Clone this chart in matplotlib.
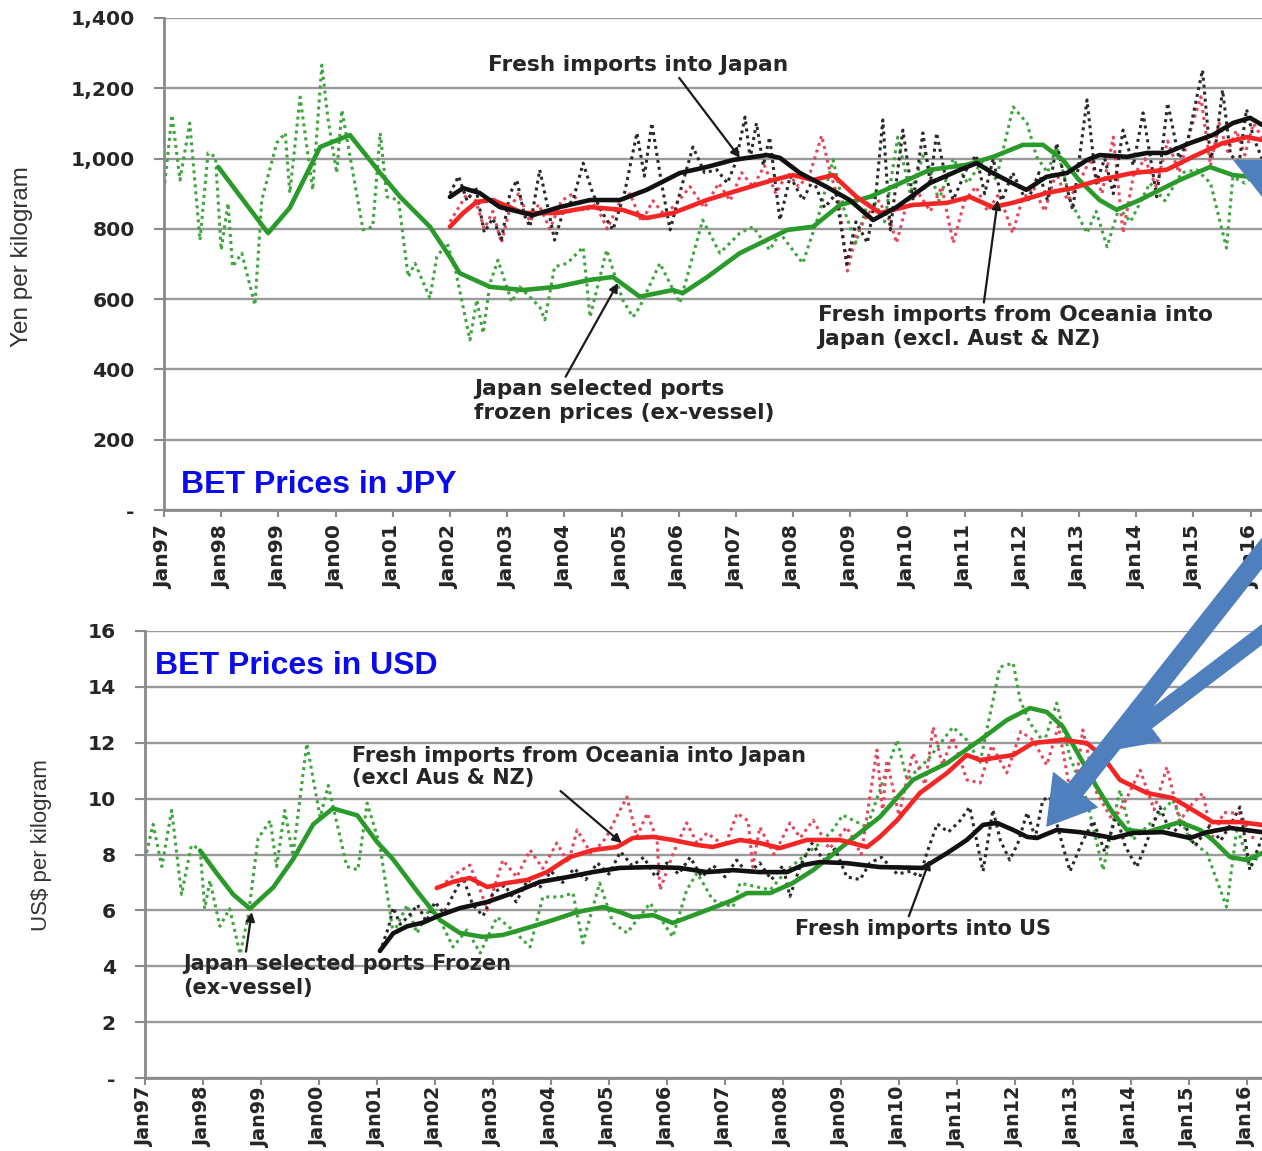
import matplotlib
matplotlib.use("Agg")
import matplotlib.pyplot as plt
from matplotlib.patches import Polygon, FancyArrowPatch

# ---------------- JPY panel (yen per kg) ----------------
# Japan selected ports frozen prices, monthly (dotted) and moving average (solid)
frz_jpy_t = [1997.0, 1997.14, 1997.28, 1997.45, 1997.63, 1997.77, 1997.9, 1998.0, 1998.12, 1998.2,
             1998.36, 1998.59, 1998.71, 1998.97, 1999.12, 1999.2, 1999.38, 1999.6, 1999.76, 1999.87,
             2000.02, 2000.11, 2000.48, 2000.65, 2000.78, 2000.9, 2001.1, 2001.27, 2001.39, 2001.65,
             2001.77, 2001.95, 2002.1, 2002.35, 2002.47, 2002.58, 2002.7, 2002.84, 2003.08, 2003.22,
             2003.57, 2003.66, 2003.83, 2004.05, 2004.33, 2004.45, 2004.74, 2005.02, 2005.2, 2005.32,
             2005.67, 2006.02, 2006.42, 2006.72, 2007.07, 2007.3, 2007.59, 2007.77, 2008.17, 2008.45,
             2008.7, 2008.9, 2009.1, 2009.35, 2009.6, 2009.83, 2010.05, 2010.3, 2010.55, 2010.8,
             2011.05, 2011.3, 2011.55, 2011.85, 2012.09, 2012.26, 2012.45, 2012.61, 2012.85, 2013.14,
             2013.3, 2013.49, 2013.7, 2013.9, 2014.24, 2014.5, 2014.8, 2015.06, 2015.3, 2015.58,
             2015.69, 2015.9, 2016.16]
frz_jpy_v = [911, 1124, 939, 1101, 768, 1016, 1005, 740, 873, 692,
             731, 583, 882, 1044, 1073, 902, 1175, 911, 1266, 1110,
             959, 1138, 797, 806, 1073, 891, 882, 663, 702, 603,
             720, 760, 680, 484, 598, 503, 645, 711, 592, 635,
             578, 541, 692, 702, 748, 549, 740, 598, 549, 578,
             702, 589, 825, 731, 788, 806, 740, 788, 702, 840,
             996, 850, 760, 900, 820, 1061, 900, 1020, 880, 1000,
             930, 990, 940, 1147, 1101, 1005, 960, 1033, 880, 788,
             850, 749, 860, 820, 930, 880, 960, 968, 930, 745,
             948, 930, 968]
frz_jpy_ma_t = [1997.95, 1998.3, 1998.82, 1999.2, 1999.73, 2000.25, 2000.78, 2001.13, 2001.65, 2002.0,
                2002.17, 2002.7, 2003.28, 2003.87, 2004.45, 2004.85, 2005.32, 2005.9, 2006.07, 2006.5,
                2007.07, 2007.65, 2007.9, 2008.35, 2008.82, 2009.34, 2009.81, 2010.39, 2011.03, 2011.5,
                2012.02, 2012.37, 2012.72, 2013.0, 2013.36, 2013.66, 2014.06, 2014.76, 2015.29, 2015.69,
                2016.2]
frz_jpy_ma_v = [976, 900, 788, 860, 1033, 1067, 959, 891, 806, 720,
                674, 635, 626, 635, 655, 663, 607, 626, 617, 663,
                731, 777, 797, 806, 868, 891, 925, 968, 982, 1005,
                1039, 1039, 996, 939, 882, 854, 882, 939, 976, 953,
                945]

# Fresh imports into Japan
jp_t = [2002.0, 2002.15, 2002.3, 2002.45, 2002.6, 2002.75, 2002.9, 2003.05, 2003.17, 2003.3,
        2003.4, 2003.57, 2003.7, 2003.83, 2004.0, 2004.15, 2004.33, 2004.5, 2004.65, 2004.85,
        2005.05, 2005.27, 2005.4, 2005.53, 2005.7, 2005.85, 2006.05, 2006.25, 2006.45, 2006.67,
        2006.85, 2007.0, 2007.16, 2007.25, 2007.36, 2007.48, 2007.59, 2007.77, 2007.95, 2008.17,
        2008.35, 2008.55, 2008.75, 2008.94, 2009.1, 2009.3, 2009.45, 2009.57, 2009.7, 2009.92,
        2010.1, 2010.27, 2010.4, 2010.51, 2010.65, 2010.8, 2011.03, 2011.2, 2011.35, 2011.5,
        2011.65, 2011.84, 2012.09, 2012.3, 2012.45, 2012.61, 2012.75, 2012.89, 2013.14, 2013.3,
        2013.45, 2013.6, 2013.77, 2013.95, 2014.12, 2014.36, 2014.55, 2014.75, 2014.9, 2015.16,
        2015.3, 2015.4, 2015.51, 2015.65, 2015.8, 2015.93, 2016.05, 2016.2]
jp_v = [900, 950, 880, 920, 790, 830, 770, 900, 939, 840,
        806, 968, 870, 768, 860, 880, 987, 900, 850, 797,
        900, 1073, 950, 1101, 930, 797, 920, 1033, 960, 968,
        930, 990, 1118, 1000, 1101, 980, 1061, 825, 950, 882,
        940, 860, 900, 700, 820, 760, 900, 1110, 797, 1081,
        880, 1073, 930, 1073, 960, 882, 968, 1010, 900, 1000,
        880, 960, 874, 960, 880, 1044, 940, 854, 1167, 930,
        1000, 900, 1081, 980, 1130, 891, 1158, 1000, 1050, 1252,
        1000, 1050, 1195, 1010, 990, 1140, 1060, 1000]
jp_ma_t = [2002.0, 2002.23, 2002.52, 2002.87, 2003.45, 2003.92, 2004.45, 2004.97, 2005.44, 2006.02,
           2006.49, 2006.95, 2007.54, 2007.77, 2008.12, 2008.59, 2008.99, 2009.4, 2009.81, 2010.39,
           2010.92, 2011.21, 2011.49, 2011.84, 2012.08, 2012.43, 2012.79, 2013.14, 2013.36, 2013.84,
           2014.19, 2014.53, 2014.94, 2015.34, 2015.69, 2015.99, 2016.2]
jp_ma_v = [891, 916, 902, 862, 839, 862, 882, 882, 911, 959,
           976, 996, 1010, 1002, 959, 919, 882, 825, 862, 930,
           968, 987, 959, 930, 911, 948, 959, 996, 1010, 1005,
           1016, 1016, 1044, 1067, 1101, 1116, 1096]

# Fresh imports from Oceania into Japan (excl. Aust & NZ)
oc_jpy_t = [2002.0, 2002.15, 2002.3, 2002.45, 2002.6, 2002.75, 2002.9, 2003.05, 2003.2, 2003.4,
            2003.55, 2003.75, 2003.95, 2004.15, 2004.35, 2004.55, 2004.75, 2004.95, 2005.15, 2005.35,
            2005.55, 2005.75, 2005.95, 2006.2, 2006.45, 2006.7, 2006.9, 2007.1, 2007.3, 2007.5,
            2007.7, 2007.9, 2008.1, 2008.3, 2008.5, 2008.65, 2008.8, 2008.95, 2009.1, 2009.3,
            2009.5, 2009.7, 2009.81, 2010.0, 2010.2, 2010.4, 2010.6, 2010.8, 2011.0, 2011.2,
            2011.4, 2011.6, 2011.84, 2012.0, 2012.2, 2012.4, 2012.6, 2012.8, 2013.0, 2013.2,
            2013.4, 2013.6, 2013.77, 2013.95, 2014.15, 2014.35, 2014.55, 2014.75, 2014.95, 2015.13,
            2015.3, 2015.45, 2015.6, 2015.75, 2015.9, 2016.05, 2016.2]
oc_jpy_v = [820, 860, 900, 880, 800, 850, 760, 860, 900, 820,
            870, 800, 880, 900, 850, 870, 800, 870, 900, 820,
            880, 840, 870, 920, 860, 930, 880, 960, 920, 980,
            900, 960, 920, 960, 1065, 960, 880, 680, 780, 840,
            880, 820, 760, 880, 900, 850, 920, 760, 880, 920,
            850, 900, 788, 880, 920, 850, 960, 880, 930, 1000,
            900, 1061, 788, 950, 1000, 920, 1050, 960, 1080, 1176,
            980, 1100, 1020, 1080, 1010, 1100, 1060]
oc_jpy_ma_t = [2002.0, 2002.23, 2002.47, 2002.75, 2003.28, 2003.87, 2004.45, 2005.02, 2005.44, 2005.9,
               2006.49, 2007.07, 2007.65, 2008.0, 2008.35, 2008.7, 2009.11, 2009.52, 2010.09, 2010.69,
               2011.09, 2011.49, 2011.84, 2012.43, 2012.89, 2013.36, 2013.94, 2014.53, 2014.99, 2015.51,
               2015.93, 2016.2]
oc_jpy_ma_v = [806, 845, 877, 882, 845, 845, 862, 854, 831, 845,
               882, 911, 939, 953, 939, 953, 891, 845, 868, 874,
               891, 862, 874, 902, 916, 939, 959, 968, 1005, 1044,
               1061, 1053]

# ---------------- USD panel (US$ per kg) ----------------
frz_usd_t = [1997.0, 1997.14, 1997.29, 1997.46, 1997.63, 1997.8, 1997.95, 1998.03, 1998.12, 1998.29,
             1998.46, 1998.64, 1998.78, 1998.95, 1999.16, 1999.27, 1999.41, 1999.55, 1999.79, 2000.02,
             2000.16, 2000.48, 2000.67, 2000.83, 2001.05, 2001.28, 2001.52, 2001.69, 2001.91, 2002.1,
             2002.31, 2002.55, 2002.78, 2003.07, 2003.34, 2003.64, 2003.86, 2004.16, 2004.38, 2004.55,
             2004.84, 2005.07, 2005.31, 2005.71, 2006.1, 2006.34, 2006.52, 2006.79, 2007.14, 2007.26,
             2007.78, 2008.07, 2008.34, 2008.64, 2008.86, 2009.03, 2009.45, 2009.97, 2010.14, 2010.5,
             2010.93, 2011.17, 2011.4, 2011.74, 2011.97, 2012.09, 2012.26, 2012.5, 2012.72, 2012.95,
             2013.24, 2013.52, 2013.81, 2014.03, 2014.45, 2014.72, 2015.02, 2015.31, 2015.65, 2015.83,
             2016.05, 2016.26]
frz_usd_v = [7.82, 9.08, 7.57, 9.58, 6.57, 8.33, 8.2, 6.06, 7.07, 5.43,
             6.06, 4.43, 5.81, 8.58, 9.21, 7.57, 9.58, 7.95, 11.97, 9.33,
             10.47, 7.57, 7.45, 9.84, 8.33, 5.18, 6.19, 5.18, 6.06, 5.6,
             4.69, 5.30, 4.47, 5.76, 5.30, 4.69, 6.48, 6.48, 6.62, 4.83,
             6.98, 5.55, 5.19, 6.26, 5.05, 6.73, 7.34, 6.37, 6.12, 6.98,
             6.73, 7.44, 7.91, 8.41, 8.88, 9.41, 8.98, 12.10, 10.67, 11.4,
             12.56, 12.10, 11.3, 14.71, 14.85, 13.53, 12.71, 12.0, 13.42, 11.49,
             9.95, 7.44, 10.31, 8.52, 9.34, 9.95, 8.52, 8.05, 6.12, 8.98,
             7.55, 8.1]
frz_usd_ma_t = [1997.95, 1998.24, 1998.52, 1998.81, 1999.21, 1999.55, 1999.9, 2000.24, 2000.66, 2001.0,
                2001.28, 2001.69, 2002.09, 2002.43, 2002.83, 2003.17, 2003.64, 2004.03, 2004.45, 2004.9,
                2005.19, 2005.41, 2005.76, 2006.1, 2006.69, 2007.14, 2007.38, 2007.78, 2008.17, 2008.52,
                2009.1, 2009.67, 2010.24, 2010.83, 2011.4, 2011.86, 2012.26, 2012.55, 2012.83, 2013.12,
                2013.41, 2013.69, 2013.93, 2014.28, 2014.84, 2015.19, 2015.41, 2015.71, 2016.0, 2016.26]
frz_usd_ma_v = [8.14, 7.32, 6.57, 6.06, 6.82, 7.82, 9.08, 9.65, 9.40, 8.45,
                7.82, 6.69, 5.65, 5.19, 5.05, 5.12, 5.40, 5.65, 5.94, 6.12,
                5.94, 5.76, 5.83, 5.55, 6.01, 6.37, 6.62, 6.62, 6.98, 7.44,
                8.41, 9.34, 10.67, 11.27, 12.10, 12.81, 13.24, 13.10, 12.56, 11.49,
                10.42, 9.48, 8.88, 8.80, 9.16, 8.88, 8.52, 7.91, 7.80, 8.05]

# Fresh imports into US
us_t = [2001.05, 2001.2, 2001.28, 2001.4, 2001.55, 2001.7, 2001.85, 2002.0, 2002.15, 2002.3,
        2002.48, 2002.65, 2002.83, 2003.0, 2003.2, 2003.4, 2003.6, 2003.8, 2004.0, 2004.2,
        2004.4, 2004.6, 2004.8, 2005.0, 2005.2, 2005.4, 2005.6, 2005.8, 2006.0, 2006.2,
        2006.4, 2006.6, 2006.8, 2007.0, 2007.2, 2007.4, 2007.6, 2007.8, 2008.0, 2008.12,
        2008.3, 2008.5, 2008.7, 2008.9, 2009.1, 2009.33, 2009.5, 2009.7, 2009.97, 2010.2,
        2010.36, 2010.48, 2010.66, 2010.85, 2011.05, 2011.22, 2011.45, 2011.62, 2011.75, 2011.91,
        2012.05, 2012.21, 2012.35, 2012.48, 2012.6, 2012.8, 2012.95, 2013.15, 2013.35, 2013.55,
        2013.75, 2013.9, 2014.1, 2014.3, 2014.5, 2014.7, 2014.9, 2015.1, 2015.35, 2015.55,
        2015.75, 2015.88, 2016.05, 2016.26]
us_v = [4.5, 5.4, 6.1, 5.5, 5.8, 6.2, 5.6, 6.3, 5.9, 6.5,
        7.2, 6.2, 5.8, 6.6, 6.9, 6.3, 7.1, 6.8, 7.4, 7.0,
        7.5, 7.1, 7.7, 7.3, 8.1, 7.6, 7.9, 7.2, 7.7, 7.3,
        7.9, 7.2, 7.6, 7.2, 7.8, 7.3, 7.7, 7.1, 7.6, 6.5,
        7.6, 8.4, 7.8, 8.2, 7.2, 7.1, 7.7, 7.9, 7.3, 7.4,
        7.2, 8.05, 9.1, 8.8, 9.2, 9.7, 7.4, 9.6, 8.5, 7.8,
        8.4, 9.5, 8.6, 9.95, 10.06, 8.5, 7.4, 8.4, 9.2, 8.1,
        9.4, 8.3, 7.55, 8.6, 9.7, 8.7, 9.2, 8.3, 9.0, 8.5,
        9.2, 9.7, 7.45, 8.6]
us_ma_t = [2001.05, 2001.28, 2001.52, 2001.79, 2002.09, 2002.43, 2002.9, 2003.34, 2003.81, 2004.28,
           2004.72, 2005.19, 2005.76, 2006.22, 2006.69, 2007.14, 2007.6, 2008.07, 2008.34, 2008.64,
           2009.1, 2009.67, 2010.41, 2010.83, 2011.17, 2011.45, 2011.69, 2011.97, 2012.21, 2012.38,
           2012.72, 2013.12, 2013.41, 2013.69, 2014.03, 2014.55, 2015.02, 2015.31, 2015.71, 2016.26]
us_ma_v = [4.55, 5.18, 5.43, 5.56, 5.83, 6.08, 6.30, 6.62, 7.02, 7.19,
           7.37, 7.52, 7.55, 7.52, 7.37, 7.44, 7.37, 7.37, 7.62, 7.73,
           7.69, 7.55, 7.52, 8.05, 8.52, 9.06, 9.13, 8.88, 8.63, 8.59,
           8.88, 8.80, 8.70, 8.59, 8.77, 8.80, 8.59, 8.80, 8.95, 8.80]

# Fresh imports from Oceania into Japan, in USD
oc_usd_t = [2002.09, 2002.35, 2002.6, 2002.78, 2002.9, 2003.17, 2003.41, 2003.64, 2003.86, 2004.1,
            2004.3, 2004.45, 2004.7, 2004.95, 2005.19, 2005.31, 2005.48, 2005.66, 2005.83, 2005.88,
            2006.1, 2006.34, 2006.52, 2006.69, 2007.0, 2007.21, 2007.4, 2007.48, 2007.6, 2007.85,
            2008.12, 2008.3, 2008.52, 2008.8, 2009.1, 2009.35, 2009.62, 2009.72, 2009.79, 2010.0,
            2010.24, 2010.45, 2010.59, 2010.75, 2010.93, 2011.17, 2011.4, 2011.6, 2011.86, 2012.1,
            2012.31, 2012.55, 2012.75, 2013.0, 2013.17, 2013.41, 2013.69, 2013.9, 2014.16, 2014.4,
            2014.62, 2014.84, 2015.05, 2015.24, 2015.4, 2015.6, 2015.88, 2016.1, 2016.26]
oc_usd_v = [6.84, 7.3, 7.62, 6.73, 6.01, 7.80, 7.19, 8.16, 7.5, 8.41,
            7.7, 8.88, 8.0, 8.6, 9.59, 10.06, 8.63, 9.48, 8.5, 6.73,
            8.0, 9.13, 8.4, 8.77, 8.3, 9.48, 9.2, 7.55, 8.98, 8.0,
            9.13, 8.6, 9.23, 8.2, 8.98, 8.0, 11.74, 9.48, 11.38, 9.4,
            11.63, 10.5, 12.56, 11.2, 12.2, 10.67, 10.56, 11.9, 10.92, 12.4,
            12.1, 11.2, 12.6, 9.70, 12.46, 10.20, 9.2, 9.9, 11.02, 9.6,
            11.13, 9.2, 9.8, 10.20, 8.6, 9.5, 9.48, 8.6, 9.2]
oc_usd_ma_t = [2002.03, 2002.31, 2002.6, 2002.9, 2003.24, 2003.59, 2003.93, 2004.33, 2004.72, 2005.14,
               2005.41, 2005.76, 2006.1, 2006.52, 2006.79, 2007.26, 2007.6, 2007.95, 2008.41, 2008.98,
               2009.45, 2009.67, 2009.97, 2010.36, 2010.83, 2011.17, 2011.4, 2011.97, 2012.31, 2012.83,
               2013.24, 2013.52, 2013.81, 2014.28, 2014.72, 2015.07, 2015.41, 2015.88, 2016.26]
oc_usd_ma_v = [6.80, 7.02, 7.16, 6.84, 6.98, 7.09, 7.37, 7.91, 8.16, 8.27,
               8.59, 8.63, 8.52, 8.34, 8.27, 8.52, 8.41, 8.23, 8.52, 8.52,
               8.27, 8.63, 9.23, 10.20, 10.92, 11.56, 11.38, 11.56, 11.99, 12.10,
               11.99, 11.49, 10.67, 10.20, 10.02, 9.59, 9.16, 9.16, 9.06]

years = list(range(1997, 2017))
xlabels = ["Jan%02d" % (y % 100) for y in years]
jpy_ticks = [0, 200, 400, 600, 800, 1000, 1200, 1400]
jpy_labels = ["-", "200", "400", "600", "800", "1,000", "1,200", "1,400"]
usd_ticks = [0, 2, 4, 6, 8, 10, 12, 14, 16]
usd_labels = ["-", "2", "4", "6", "8", "10", "12", "14", "16"]

W, H = 1262, 1151
fig = plt.figure(figsize=(W / 100, H / 100), dpi=100)

GREEN, GREEN_D = "#2a9a2a", "#3fa53f"
RED, RED_D = "#f42525", "#e4485e"
BLACK, BLACK_D = "#111111", "#2a2a2a"
TXT = "#262626"
BOLD = dict(family="DejaVu Sans", fontweight="bold", color=TXT)
dot = (0, (1, 1.3))


def px_axes(l, t, r, b):
    return fig.add_axes([l / W, 1 - b / H, (r - l) / W, (b - t) / H])


def style(ax, ticks, labels, ymax, xmax, xsize, xpad):
    ax.set_xlim(1997, xmax)
    ax.set_ylim(0, ymax)
    for s in ["top", "right"]:
        ax.spines[s].set_visible(False)
    for s in ["left", "bottom"]:
        ax.spines[s].set_color("#8a8a8a")
        ax.spines[s].set_linewidth(2)
    ax.set_yticks(ticks)
    ax.set_yticklabels(labels, fontsize=14.6, **BOLD)
    ax.set_xticks(years)
    ax.set_xticklabels(xlabels, rotation=90, fontsize=xsize, **BOLD)
    ax.tick_params(axis="y", length=7, width=1.5, color="#8a8a8a", pad=14)
    ax.tick_params(axis="x", length=5, width=1.5, color="#8a8a8a", pad=xpad)
    ax.yaxis.grid(True, color="#9a9a9a", lw=1.7)
    ax.set_axisbelow(True)


def draw(ax, t, v, color, dotted):
    if dotted:
        ax.plot(t, v, color=color, lw=2.2, ls=dot, zorder=2)
    else:
        ax.plot(t, v, color=color, lw=3.3, zorder=3, solid_capstyle="round")


arrow_kw = dict(arrowstyle="-|>", color="#1a1a1a", lw=1.6, mutation_scale=13, shrinkA=0, shrinkB=0)

# ---- top panel ----
ax1 = px_axes(164, 18, W, 510)
style(ax1, jpy_ticks, jpy_labels, 1400, 2016.2, 14.6, 6)
draw(ax1, frz_jpy_t, frz_jpy_v, GREEN_D, True)
draw(ax1, oc_jpy_t, oc_jpy_v, RED_D, True)
draw(ax1, jp_t, jp_v, BLACK_D, True)
draw(ax1, frz_jpy_ma_t, frz_jpy_ma_v, GREEN, False)
draw(ax1, oc_jpy_ma_t, oc_jpy_ma_v, RED, False)
draw(ax1, jp_ma_t, jp_ma_v, BLACK, False)

ax1.annotate("Fresh imports into Japan", xy=(2007.07, 1002), xytext=(2005.29, 1266),
             ha="center", va="center", fontsize=15.6, **BOLD,
             arrowprops=dict(relpos=(0.63, 0.0), **arrow_kw))
ax1.annotate("Japan selected ports\nfrozen prices (ex-vessel)", xy=(2004.94, 646), xytext=(2002.42, 310),
             ha="left", va="center", fontsize=15.6, linespacing=1.2, **BOLD,
             arrowprops=dict(relpos=(0.3, 1.0), **arrow_kw))
ax1.annotate("Fresh imports from Oceania into\nJapan (excl. Aust & NZ)", xy=(2011.58, 882), xytext=(2008.43, 521),
             ha="left", va="center", fontsize=15.6, linespacing=1.2, **BOLD,
             arrowprops=dict(relpos=(0.42, 1.0), **arrow_kw))
ax1.text(1997.3, 71, "BET Prices in JPY", ha="left", va="center", fontsize=23,
         family="Liberation Sans", fontweight="bold", color="#0a0aee")

# ---- bottom panel ----
ax2 = px_axes(145, 631, W, 1078)
style(ax2, usd_ticks, usd_labels, 16, 2016.26, 13.8, 1.5)
draw(ax2, frz_usd_t, frz_usd_v, GREEN_D, True)
draw(ax2, oc_usd_t, oc_usd_v, RED_D, True)
draw(ax2, us_t, us_v, BLACK_D, True)
draw(ax2, frz_usd_ma_t, frz_usd_ma_v, GREEN, False)
draw(ax2, oc_usd_ma_t, oc_usd_ma_v, RED, False)
draw(ax2, us_ma_t, us_ma_v, BLACK, False)

ax2.annotate("Fresh imports from Oceania into Japan\n(excl Aus & NZ)", xy=(2005.22, 8.41), xytext=(2000.57, 11.13),
             ha="left", va="center", fontsize=15, linespacing=1.15, **BOLD,
             arrowprops=dict(relpos=(0.43, 0.2), **arrow_kw))
ax2.annotate("Japan selected ports Frozen\n(ex-vessel)", xy=(1998.84, 5.94), xytext=(1997.66, 3.65),
             ha="left", va="center", fontsize=15, linespacing=1.2, **BOLD,
             arrowprops=dict(relpos=(0.19, 1.0), **arrow_kw))
ax2.annotate("Fresh imports into US", xy=(2010.53, 7.80), xytext=(2008.21, 5.33),
             ha="left", va="center", fontsize=15, **BOLD,
             arrowprops=dict(relpos=(0.44, 1.0), **arrow_kw))
ax2.text(1997.17, 14.75, "BET Prices in USD", ha="left", va="center", fontsize=23,
         family="Liberation Sans", fontweight="bold", color="#0a0aee")

# axis titles
fig.text(22 / W, 1 - 257 / H, "Yen per kilogram", rotation=90, ha="center", va="center",
         fontsize=17.5, family="Liberation Sans", color="#333333")
fig.text(42 / W, 1 - 845 / H, "US$ per kilogram", rotation=90, ha="center", va="center",
         fontsize=16, family="Liberation Sans", color="#333333")

# big blue call-out arrows (figure pixels, y measured from top)
BLUE = "#4f7fbd"


def fp(x, y):
    return (x, H - y)


def blue_arrow(tail, tip, tw, hw, hl):
    style_s = "simple,head_length=%g,head_width=%g,tail_width=%g" % (hl, hw, tw)
    fig.patches.append(FancyArrowPatch(
        posA=fp(*tail), posB=fp(*tip), arrowstyle=style_s, mutation_scale=1,
        color=BLUE, shrinkA=0, shrinkB=0, transform=None, figure=fig, zorder=10))


blue_arrow((1300, 505), (1047, 826), 13, 40, 33)
blue_arrow((1310, 598), (1110, 750), 11, 34, 33)
tri = Polygon([fp(1233, 160), fp(1310, 160), fp(1310, 258)], closed=True,
              transform=None, facecolor=BLUE, edgecolor="none", zorder=10)
fig.patches.append(tri)

fig.savefig("out.png", dpi=100)
